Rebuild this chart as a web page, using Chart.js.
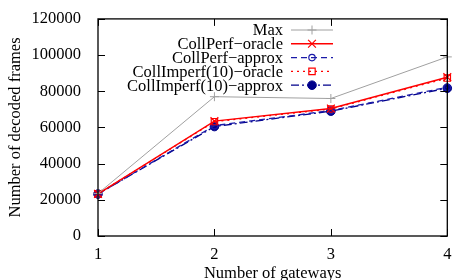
<!DOCTYPE html>
<html>
<head>
<meta charset="utf-8">
<script src="https://cdn.jsdelivr.net/npm/chart.js@4/dist/chart.umd.min.js"></script>
<style>
  html, body { margin: 0; padding: 0; background: #fff; }
  #wrap { width: 454px; height: 280px; }
</style>
</head>
<body>
<div id="wrap"><canvas id="chart" width="454" height="280"></canvas></div>
<script>
// values
const gateways = [1, 2, 3, 4];
const maxFrames = [23500, 77000, 76000, 99000];
const perfOracle = [23300, 63500, 70500, 87800];
const perfApprox = [23200, 61000, 69300, 82200];
const imperfOracle = [23300, 63200, 70200, 87300];
const imperfApprox = [23200, 60500, 69000, 81700];
const yTicks = [0, 20000, 40000, 60000, 80000, 100000, 120000];

const serif = "'Liberation Serif', 'DejaVu Serif', serif";
const fontSize = 16.5;

const toXY = (arr) => arr.map((v, i) => ({ x: gateways[i], y: v }));

// gnuplot-ish key: right aligned text, line sample to the right
const keyPlugin = {
  id: 'key',
  afterDatasetsDraw(chart) {
    const ctx = chart.ctx;
    ctx.save();
    ctx.font = fontSize + 'px ' + serif;
    ctx.textAlign = 'right';
    ctx.textBaseline = 'middle';
    chart.data.datasets.forEach((ds, i) => {
      const y = 30 + i * 13.8;
      ctx.fillStyle = '#000';
      ctx.fillText(ds.label, 283, y + 1);
      ctx.strokeStyle = ds.borderColor;
      ctx.lineWidth = ds.borderWidth;
      ctx.setLineDash(ds.borderDash || []);
      ctx.beginPath();
      ctx.moveTo(291, y);
      ctx.lineTo(333, y);
      ctx.stroke();
      ctx.setLineDash([]);
      ctx.fillStyle = ds.pointBackgroundColor;
      ctx.strokeStyle = ds.borderColor;
      ctx.lineWidth = ds.pointBorderWidth || 1;
      Chart.helpers.drawPoint(ctx, {
        pointStyle: ds.pointStyle,
        radius: ds.pointRadius,
        borderWidth: ds.pointBorderWidth || 1,
        rotation: 0
      }, 312, y);
    });
    ctx.restore();
  }
};

// frame and inward tick marks on all four sides
const framePlugin = {
  id: 'frame',
  afterDraw(chart) {
    const { ctx, chartArea: a, scales } = chart;
    ctx.save();
    ctx.strokeStyle = '#000';
    ctx.lineWidth = 1.3;
    ctx.strokeRect(a.left, a.top, a.right - a.left, a.bottom - a.top);
    ctx.lineWidth = 1;
    ctx.beginPath();
    yTicks.forEach(v => {
      const py = Math.round(scales.y.getPixelForValue(v)) + 0.5;
      ctx.moveTo(a.left, py); ctx.lineTo(a.left + 7, py);
      ctx.moveTo(a.right, py); ctx.lineTo(a.right - 7, py);
    });
    gateways.forEach(v => {
      const px = Math.round(scales.x.getPixelForValue(v)) + 0.5;
      ctx.moveTo(px, a.bottom); ctx.lineTo(px, a.bottom - 7);
      ctx.moveTo(px, a.top); ctx.lineTo(px, a.top + 7);
    });
    ctx.stroke();
    ctx.restore();
  }
};

new Chart(document.getElementById('chart'), {
  type: 'line',
  data: {
    datasets: [
      {
        label: 'Max', data: toXY(maxFrames),
        borderColor: '#a0a0a0', borderWidth: 1,
        pointStyle: 'cross', pointRadius: 4.5, pointBorderWidth: 1,
        pointBackgroundColor: 'transparent'
      },
      {
        label: 'CollPerf\u2212oracle', data: toXY(perfOracle),
        borderColor: '#ff0000', borderWidth: 1.5,
        pointStyle: 'crossRot', pointRadius: 5.5, pointBorderWidth: 1.2,
        pointBackgroundColor: 'transparent'
      },
      {
        label: 'CollPerf\u2212approx', data: toXY(perfApprox),
        borderColor: '#1a1aa8', borderWidth: 1.3, borderDash: [6, 4],
        pointStyle: 'circle', pointRadius: 3.2, pointBorderWidth: 1.2,
        pointBackgroundColor: 'transparent'
      },
      {
        label: 'CollImperf(10)\u2212oracle', data: toXY(imperfOracle),
        borderColor: '#ff0000', borderWidth: 1.3, borderDash: [2, 4],
        pointStyle: 'rect', pointRadius: 4.5, pointBorderWidth: 1.2,
        pointBackgroundColor: 'transparent'
      },
      {
        label: 'CollImperf(10)\u2212approx', data: toXY(imperfApprox),
        borderColor: '#00008b', borderWidth: 1.3, borderDash: [8, 3, 2, 3],
        pointStyle: 'circle', pointRadius: 4.3, pointBorderWidth: 1,
        pointBackgroundColor: '#00008b'
      }
    ].map(ds => Object.assign({ tension: 0, fill: false, clip: false }, ds))
  },
  options: {
    responsive: false,
    animation: false,
    layout: { padding: { left: 0, right: 5, top: 13, bottom: 0 } },
    plugins: {
      legend: { display: false },
      tooltip: { enabled: false }
    },
    scales: {
      x: {
        type: 'linear', min: 1, max: 4,
        afterFit: (s) => { s.height = 44; },
        grid: { display: false },
        border: { display: false },
        ticks: {
          stepSize: 1, padding: 1, color: '#000',
          font: { family: serif, size: fontSize }
        },
        title: {
          display: true, text: 'Number of gateways', color: '#000',
          font: { family: serif, size: fontSize }, padding: { top: 0, bottom: -4 }
        }
      },
      y: {
        min: 0, max: 120000,
        afterFit: (s) => { s.width = 98; },
        grid: { display: false },
        border: { display: false },
        ticks: {
          stepSize: 20000, padding: 9, color: '#000',
          font: { family: serif, size: fontSize },
          callback: (v) => String(v)
        },
        title: {
          display: true, text: 'Number of decoded frames', color: '#000',
          font: { family: serif, size: fontSize }, padding: { top: 6, bottom: 0 }
        }
      }
    }
  },
  plugins: [keyPlugin, framePlugin]
});
</script>
</body>
</html>
